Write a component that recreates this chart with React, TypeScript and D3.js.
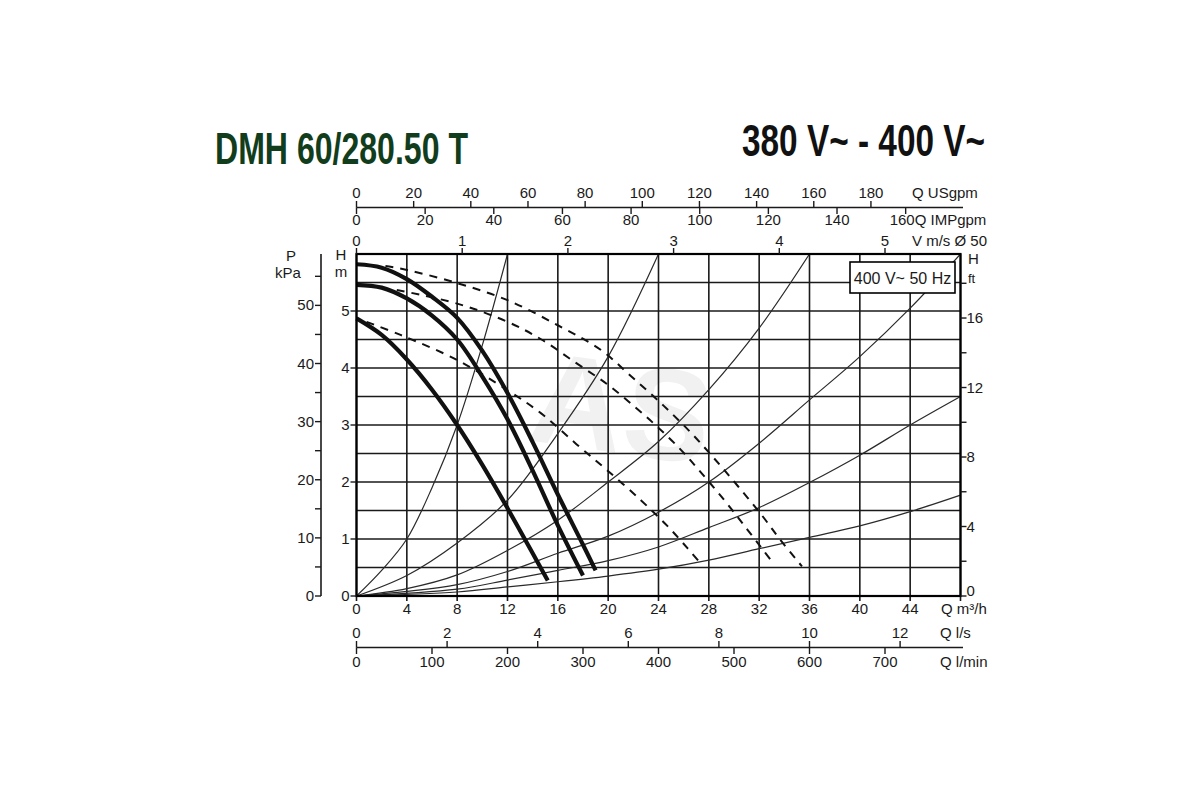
import * as d3 from 'd3';

type Pt = [number, number];

// Q in m3/h, H in m
const pumpMax: Pt[] = [[0, 5.82], [2, 5.76], [4, 5.56], [6, 5.25], [8, 4.88], [10, 4.3], [12, 3.56], [14, 2.7], [16, 1.78], [18, 0.9], [19, 0.45]];
const pumpMid: Pt[] = [[0, 5.46], [2, 5.41], [4, 5.22], [6, 4.92], [8, 4.5], [10, 3.85], [12, 3.1], [14, 2.2], [16, 1.24], [18, 0.36]];
const pumpMin: Pt[] = [[0, 4.87], [2, 4.58], [4, 4.15], [6, 3.62], [8, 3.0], [10, 2.3], [12, 1.54], [14, 0.75], [15.2, 0.27]];

const dashedMax: Pt[] = [[2.3, 5.79], [4, 5.72], [8, 5.49], [12, 5.19], [16, 4.75], [19.4, 4.32], [21.8, 3.86], [24.4, 3.34], [26.6, 2.86], [28.4, 2.42], [30.3, 1.93], [32.2, 1.42], [33.7, 0.98], [35.4, 0.52]];
const dashedMid: Pt[] = [[3.2, 5.37], [8, 5.13], [12, 4.81], [14.7, 4.5], [17.5, 4.08], [19.9, 3.72], [22.1, 3.32], [23.9, 2.97], [25.8, 2.56], [27.4, 2.16], [29.2, 1.69], [30.8, 1.24], [32.2, 0.84], [33.1, 0.58]];
const dashedMin: Pt[] = [[0.8, 4.81], [3.5, 4.58], [8, 4.14], [12, 3.61], [14.7, 3.2], [17.5, 2.66], [19.9, 2.21], [22.6, 1.68], [24.7, 1.23], [26.3, 0.84], [27.35, 0.57]];

const system1: Pt[] = [[0, 0], [2, 0.45], [4, 1.0], [6, 1.9], [8, 3.0], [10, 4.4], [12, 6.0]];
const system2: Pt[] = [[0, 0], [4, 0.36], [8, 0.93], [12, 1.68], [16, 2.85], [20, 4.2], [24, 6.0]];
const system3: Pt[] = [[0, 0], [4, 0.13], [8, 0.37], [12, 0.8], [16, 1.33], [20, 2.0], [24, 2.71], [28, 3.62], [32, 4.7], [36, 6.0]];
const system4: Pt[] = [[0, 0], [4, 0.08], [8, 0.2], [12, 0.43], [16, 0.75], [20, 1.05], [24, 1.47], [28, 2.0], [32, 2.68], [36, 3.44], [40, 4.2], [44, 5.05], [48, 6.0]];
const system5: Pt[] = [[0, 0], [8, 0.12], [12, 0.28], [16, 0.45], [20, 0.62], [24, 0.86], [28, 1.2], [32, 1.55], [36, 1.99], [40, 2.47], [44, 3.0], [48, 3.5]];
const system6: Pt[] = [[0, 0], [8, 0.07], [12, 0.16], [16, 0.25], [20, 0.35], [24, 0.47], [28, 0.63], [32, 0.83], [36, 1.03], [40, 1.23], [44, 1.48], [48, 1.77]];

const qTicks = [0, 4, 8, 12, 16, 20, 24, 28, 32, 36, 40, 44];
const hTicks = [0, 1, 2, 3, 4, 5];
const pTicks = [0, 10, 20, 30, 40, 50];
const ftTicks = [0, 4, 8, 12, 16];
const usgpmTicks = [0, 20, 40, 60, 80, 100, 120, 140, 160, 180];
const impTicks = [0, 20, 40, 60, 80, 100, 120, 140];
const velTicks = [0, 1, 2, 3, 4, 5];
const lsTicks = [0, 2, 4, 6, 8, 10, 12];
const lminTicks = [0, 100, 200, 300, 400, 500, 600, 700];

const Q_MAX = 48;
const H_MAX = 6;

const left = 356.5, right = 960.5, top = 254, bottom = 596;

const x = d3.scaleLinear().domain([0, Q_MAX]).range([left, right]);
const y = d3.scaleLinear().domain([0, H_MAX]).range([bottom, top]);
const xUS = d3.scaleLinear().domain([0, Q_MAX * 4.4029]).range([left, right]);
const xIMP = d3.scaleLinear().domain([0, Q_MAX * 3.6662]).range([left, right]);
const xVel = d3.scaleLinear().domain([0, Q_MAX / 8.4]).range([left, right]);
const xLs = d3.scaleLinear().domain([0, Q_MAX / 3.6]).range([left, right]);
const xLmin = d3.scaleLinear().domain([0, (Q_MAX * 1000) / 60]).range([left, right]);
const yP = d3.scaleLinear().domain([0, H_MAX * 9.80665]).range([bottom, top]);
const yFt = d3.scaleLinear().domain([0, H_MAX * 3.28084]).range([bottom, top]);

const line = d3.line<Pt>().x(d => x(d[0])).y(d => y(d[1])).curve(d3.curveCatmullRom.alpha(0.5));

const font = "'Liberation Sans', Arial, sans-serif";
const ink = '#1a1a1a';

export default function App() {
  const gridX = d3.range(0, Q_MAX + 0.01, 4);
  const gridY = d3.range(0, H_MAX + 0.01, 0.5);
  const pMinor = d3.range(0, 56, 5);
  const ftMinor = d3.range(0, 19, 2);

  return (
    <svg width={1200} height={800} style={{ position: 'absolute', left: 0, top: 0, background: '#fff' }}
      fontFamily={font} fill={ink}>
      {/* titles */}
      <text x={215} y={164} fontSize={45} fontWeight="bold" fill="#123d1d"
        textLength={253} lengthAdjust="spacingAndGlyphs">DMH 60/280.50 T</text>
      <text x={742} y={156} fontSize={45} fontWeight="bold" fill="#111"
        textLength={243} lengthAdjust="spacingAndGlyphs">380 V~ - 400 V~</text>

      {/* faint watermark */}
      <text x={532} y={450} fontSize={130} fontWeight="bold" fill="#f1f1f1"
        transform="rotate(8 600 400)">AS</text>

      {/* grid */}
      <g stroke={ink} strokeWidth={1.6}>
        {gridX.map(q => <line key={'gx' + q} x1={x(q)} x2={x(q)} y1={top} y2={bottom + 5} />)}
        {gridY.map(h => <line key={'gy' + h} x1={left} x2={right} y1={y(h)} y2={y(h)} />)}
      </g>

      {/* system curves */}
      <g fill="none" stroke="#2a2a2a" strokeWidth={1.2}>
        {[system1, system2, system3, system4, system5, system6].map((s, i) => (
          <path key={'s' + i} d={line(s) ?? ''} />
        ))}
      </g>

      {/* dashed curves */}
      <g fill="none" stroke="#111" strokeWidth={2} strokeDasharray="8 7">
        {[dashedMax, dashedMid, dashedMin].map((s, i) => (
          <path key={'d' + i} d={line(s) ?? ''} />
        ))}
      </g>

      {/* pump curves */}
      <g fill="none" stroke="#111" strokeWidth={4.2} strokeLinecap="butt">
        {[pumpMax, pumpMid, pumpMin].map((s, i) => (
          <path key={'p' + i} d={line(s) ?? ''} />
        ))}
      </g>

      {/* frame */}
      <rect x={left} y={top} width={right - left} height={bottom - top} fill="none" stroke="#000" strokeWidth={2.2} />

      {/* legend */}
      <rect x={850} y={262} width={105} height={31} fill="#fff" stroke="#000" strokeWidth={1.6} />
      <text x={902.5} y={284} fontSize={16} textAnchor="middle">400 V~ 50 Hz</text>

      {/* H m left */}
      <g fontSize={15}>
        <text x={341} y={260} textAnchor="middle">H</text>
        <text x={341} y={277} textAnchor="middle">m</text>
        {hTicks.map(h => (
          <g key={'h' + h}>
            <line x1={left - 6} x2={left} y1={y(h)} y2={y(h)} stroke={ink} strokeWidth={1.4} />
            <text x={left - 7} y={y(h) + 5} textAnchor="end">{h}</text>
          </g>
        ))}
      </g>

      {/* P kPa */}
      <g fontSize={15}>
        <text x={291} y={261} textAnchor="middle">P</text>
        <text x={288} y={278} textAnchor="middle">kPa</text>
        <line x1={321} x2={321} y1={top} y2={bottom} stroke={ink} strokeWidth={1.6} />
        {pMinor.map(p => (
          <line key={'pm' + p} x1={315} x2={321} y1={yP(p)} y2={yP(p)} stroke={ink} strokeWidth={1.4} />
        ))}
        {pTicks.map(p => (
          <text key={'p' + p} x={314} y={yP(p) + 5} textAnchor="end">{p}</text>
        ))}
      </g>

      {/* H ft right */}
      <g fontSize={15}>
        <text x={968} y={264}>H</text>
        <text x={968} y={283} fontSize={13}>ft</text>
        {ftMinor.map(f => (
          <line key={'fm' + f} x1={right} x2={right + 6} y1={yFt(f)} y2={yFt(f)} stroke={ink} strokeWidth={1.4} />
        ))}
        {ftTicks.map(f => (
          <text key={'f' + f} x={right + 6} y={f === 0 ? yFt(f) : yFt(f) + 5}>{f}</text>
        ))}
      </g>

      {/* velocity axis on top frame */}
      <g fontSize={15}>
        {velTicks.map(v => (
          <g key={'v' + v}>
            <line x1={xVel(v)} x2={xVel(v)} y1={top - 6} y2={top} stroke={ink} strokeWidth={1.4} />
            <text x={xVel(v)} y={246} textAnchor="middle">{v}</text>
          </g>
        ))}
        <text x={912} y={246}>V m/s Ø 50</text>
      </g>

      {/* USgpm / IMPgpm axis */}
      <g fontSize={15}>
        <line x1={left} x2={963} y1={207.5} y2={207.5} stroke={ink} strokeWidth={1.6} />
        {usgpmTicks.map(v => (
          <g key={'us' + v}>
            <line x1={xUS(v)} x2={xUS(v)} y1={201} y2={207.5} stroke={ink} strokeWidth={1.4} />
            <text x={xUS(v)} y={198} textAnchor="middle">{v}</text>
          </g>
        ))}
        <text x={912} y={198}>Q USgpm</text>
        {impTicks.concat([160]).map(v => (
          <g key={'imp' + v}>
            <line x1={xIMP(v)} x2={xIMP(v)} y1={207.5} y2={214} stroke={ink} strokeWidth={1.4} />
            {v < 160 && <text x={xIMP(v)} y={225} textAnchor="middle">{v}</text>}
          </g>
        ))}
        <text x={xIMP(160) - 16} y={225}>160Q IMPgpm</text>
      </g>

      {/* Q m3/h bottom */}
      <g fontSize={15}>
        {qTicks.map(q => (
          <text key={'q' + q} x={x(q)} y={614} textAnchor="middle">{q}</text>
        ))}
        <text x={941} y={614}>Q m³/h</text>
      </g>

      {/* l/s and l/min axis */}
      <g fontSize={15}>
        <line x1={left} x2={963} y1={647.5} y2={647.5} stroke={ink} strokeWidth={1.6} />
        {lsTicks.map(v => (
          <g key={'ls' + v}>
            <line x1={xLs(v)} x2={xLs(v)} y1={641} y2={647.5} stroke={ink} strokeWidth={1.4} />
            <text x={xLs(v)} y={638} textAnchor="middle">{v}</text>
          </g>
        ))}
        <text x={940} y={638}>Q l/s</text>
        {lminTicks.map(v => (
          <g key={'lm' + v}>
            <line x1={xLmin(v)} x2={xLmin(v)} y1={647.5} y2={654} stroke={ink} strokeWidth={1.4} />
            <text x={xLmin(v)} y={667} textAnchor="middle">{v}</text>
          </g>
        ))}
        <text x={940} y={667}>Q l/min</text>
      </g>
    </svg>
  );
}
